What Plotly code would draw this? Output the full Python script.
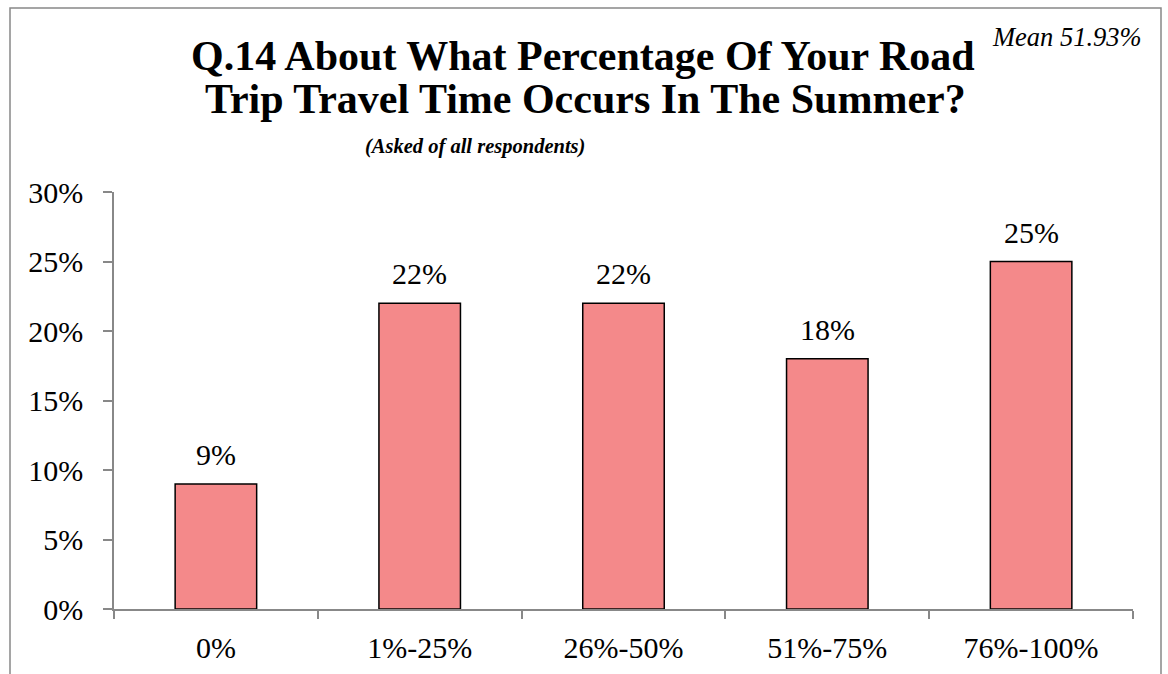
import plotly.graph_objects as go

categories = ["0%", "1%-25%", "26%-50%", "51%-75%", "76%-100%"]
values = [9, 22, 22, 18, 25]
value_labels = ["9%", "22%", "22%", "18%", "25%"]
y_ticks = [0, 5, 10, 15, 20, 25, 30]
y_tick_labels = ["0%", "5%", "10%", "15%", "20%", "25%", "30%"]

W, H = 1168, 674
L, R, T, B = 114, 35, 192, 65
pw, ph = W - L - R, H - T - B

def px(x):
    return (x - L) / pw

def py(y):
    return (H - B - y) / ph

FONT = "Liberation Serif, Times New Roman, serif"

fig = go.Figure(go.Bar(
    x=categories, y=values,
    marker=dict(color="#F4898A", line=dict(color="black", width=1.5)),
    width=0.4, hoverinfo="skip",
))

annotations = [
    dict(x=c, y=v, text=t, xref="x", yref="y", showarrow=False,
         xanchor="center", yanchor="bottom", yshift=11,
         font=dict(size=30, family=FONT, color="black"))
    for c, v, t in zip(categories, values, value_labels)
]
annotations += [
    dict(text="<b>Q.14 About What Percentage Of Your Road</b>", xref="paper", yref="paper",
         x=px(583), y=py(56), showarrow=False, xanchor="center", yanchor="middle",
         font=dict(size=42, family=FONT)),
    dict(text="<b>Trip Travel Time Occurs In The Summer?</b>", xref="paper", yref="paper",
         x=px(585), y=py(99), showarrow=False, xanchor="center", yanchor="middle",
         font=dict(size=42, family=FONT)),
    dict(text="<b><i>(Asked of all respondents)</i></b>", xref="paper", yref="paper",
         x=px(475), y=py(146), showarrow=False, xanchor="center", yanchor="middle",
         font=dict(size=20.5, family=FONT)),
    dict(text="<i>Mean 51.93%</i>", xref="paper", yref="paper",
         x=px(1144), y=py(37), showarrow=False, xanchor="right", yanchor="middle",
         font=dict(size=26.5, family=FONT)),
]

fig.update_layout(
    width=W, height=H, margin=dict(l=L, r=R, t=T, b=B, autoexpand=False),
    plot_bgcolor="white", paper_bgcolor="white", showlegend=False,
    hovermode=False,
    font=dict(family=FONT, color="black"),
    xaxis=dict(showline=True, linecolor="#888888", linewidth=1.5,
               ticks="outside", tickson="boundaries", ticklen=8, tickcolor="#888888",
               tickwidth=1.5, tickfont=dict(size=30, family=FONT), showgrid=False,
               ticklabelstandoff=11, automargin=False),
    yaxis=dict(range=[0, 30], tickvals=y_ticks, ticktext=y_tick_labels,
               showline=True, linecolor="#888888", linewidth=1.5,
               ticks="outside", ticklen=9, tickcolor="#888888", tickwidth=1.5,
               tickfont=dict(size=30, family=FONT), showgrid=False, zeroline=False,
               ticklabelstandoff=14, automargin=False),
    shapes=[dict(type="rect", xref="paper", yref="paper",
                 x0=px(10), x1=px(1161), y0=py(690), y1=py(8),
                 line=dict(color="#888888", width=1.5), fillcolor="rgba(0,0,0,0)", layer="below")],
    annotations=annotations,
)

fig.write_html("out.html", config={"displayModeBar": False},
               post_script="document.body.style.margin='0px';")
